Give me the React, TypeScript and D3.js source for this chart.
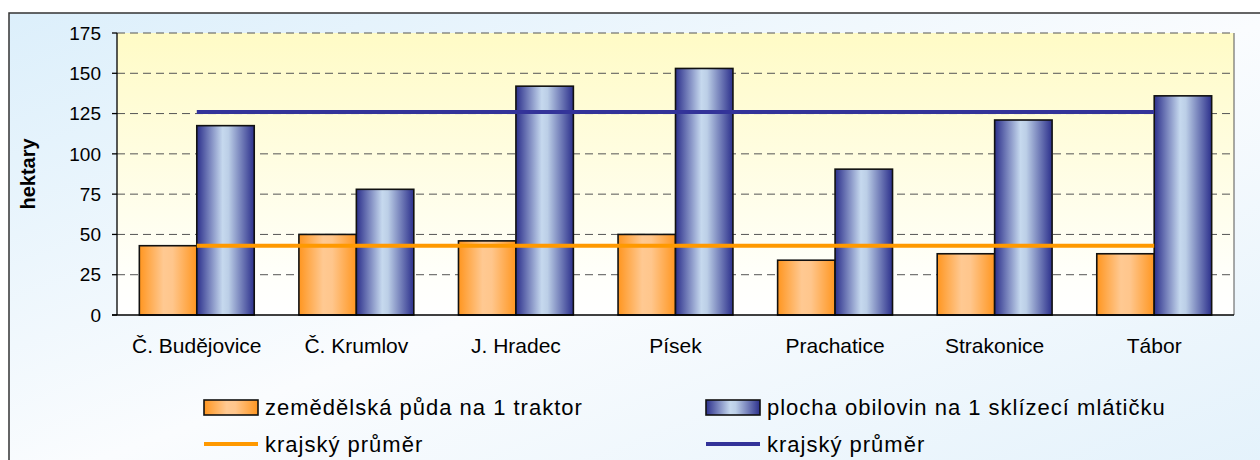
import React, { useEffect, useRef } from 'react';
import * as d3 from 'd3';

const categories = ['Č. Budějovice', 'Č. Krumlov', 'J. Hradec', 'Písek', 'Prachatice', 'Strakonice', 'Tábor'];
const landPerTractor = [43, 50, 46, 50, 34, 38, 38];
const grainPerHarvester = [117.5, 78, 142, 153, 90.5, 121, 136];
const avgLand = 43;
const avgGrain = 126;
const yTicks = [0, 25, 50, 75, 100, 125, 150, 175];
const seriesNames = ['zemědělská půda na 1 traktor', 'plocha obilovin na 1 sklízecí mlátičku'];
const avgName = 'krajský průměr';

const App: React.FC = () => {
  const ref = useRef(null);

  useEffect(() => {
    if (!ref.current) return;
    const W = 1260;
    const H = 460;
    const margin = { top: 33, left: 117, right: 26, bottom: 145 };

    d3.select(ref.current).selectAll('*').remove();

    const svg = d3.select(ref.current)
      .append('svg')
      .attr('width', W)
      .attr('height', H)
      .style('display', 'block')
      .style('font-family', 'Arial, "Liberation Sans", sans-serif');

    const defs = svg.append('defs');

    const bg = defs.append('linearGradient').attr('id', 'bgGrad')
      .attr('x1', 0).attr('y1', 0).attr('x2', 1).attr('y2', 1);
    bg.append('stop').attr('offset', 0).attr('stop-color', '#DCEFFB');
    bg.append('stop').attr('offset', 0.5).attr('stop-color', '#FAFCFE');
    bg.append('stop').attr('offset', 1).attr('stop-color', '#E2F1FB');

    const plotBg = defs.append('linearGradient').attr('id', 'plotGrad')
      .attr('x1', 0).attr('y1', 0).attr('x2', 0).attr('y2', 1);
    plotBg.append('stop').attr('offset', 0).attr('stop-color', '#FFFBC6');
    plotBg.append('stop').attr('offset', 0.85).attr('stop-color', '#FFFFFA');
    plotBg.append('stop').attr('offset', 1).attr('stop-color', '#FFFFFF');

    const orange = defs.append('linearGradient').attr('id', 'orangeGrad')
      .attr('x1', 0).attr('y1', 0).attr('x2', 1).attr('y2', 0);
    orange.append('stop').attr('offset', 0).attr('stop-color', '#FF9620');
    orange.append('stop').attr('offset', 0.42).attr('stop-color', '#FFC992');
    orange.append('stop').attr('offset', 0.58).attr('stop-color', '#FFC68C');
    orange.append('stop').attr('offset', 1).attr('stop-color', '#FF9620');

    const blue = defs.append('linearGradient').attr('id', 'blueGrad')
      .attr('x1', 0).attr('y1', 0).attr('x2', 1).attr('y2', 0);
    blue.append('stop').attr('offset', 0).attr('stop-color', '#2C308C');
    blue.append('stop').attr('offset', 0.45).attr('stop-color', '#C6D9EE');
    blue.append('stop').attr('offset', 0.55).attr('stop-color', '#BCCFE7');
    blue.append('stop').attr('offset', 1).attr('stop-color', '#2C308C');

    // outer frame, runs off the right and bottom edge like the original
    svg.append('rect')
      .attr('x', 9).attr('y', 13)
      .attr('width', W + 20).attr('height', H + 20)
      .attr('fill', 'url(#bgGrad)')
      .attr('stroke', '#333')
      .attr('stroke-width', 1.5);

    const x0 = d3.scaleBand<string>()
      .domain(categories)
      .range([margin.left, W - margin.right])
      .paddingInner(0.28)
      .paddingOuter(0.14);
    const x1 = d3.scaleBand<number>()
      .domain([0, 1])
      .range([0, x0.bandwidth()]);
    const y = d3.scaleLinear().domain([0, 175]).range([H - margin.bottom, margin.top]);

    const left = margin.left;
    const right = W - margin.right;

    svg.append('rect')
      .attr('x', left).attr('y', y(175))
      .attr('width', right - left).attr('height', y(0) - y(175))
      .attr('fill', 'url(#plotGrad)');

    // gridlines
    svg.selectAll('.grid')
      .data(yTicks.filter(t => t > 0))
      .enter().append('line')
      .attr('x1', left).attr('x2', right)
      .attr('y1', d => y(d)).attr('y2', d => y(d))
      .attr('stroke', '#555')
      .attr('stroke-width', 1)
      .attr('stroke-dasharray', '8,5');

    svg.append('line')
      .attr('x1', right).attr('x2', right)
      .attr('y1', y(175)).attr('y2', y(0))
      .attr('stroke', '#555').attr('stroke-width', 1);

    // bars
    const series = [landPerTractor, grainPerHarvester];
    const fills = ['url(#orangeGrad)', 'url(#blueGrad)'];
    series.forEach((vals, si) => {
      svg.selectAll('.bar' + si)
        .data(vals)
        .enter().append('rect')
        .attr('x', (d, i) => (x0(categories[i]) as number) + (x1(si) as number))
        .attr('y', d => y(d))
        .attr('width', x1.bandwidth())
        .attr('height', d => y(0) - y(d))
        .attr('fill', fills[si])
        .attr('stroke', '#111')
        .attr('stroke-width', 1.6);
    });

    // regional averages, first to last category centre
    const cx = (c: string) => (x0(c) as number) + x0.bandwidth() / 2;
    const avgLine = d3.line<number>()
      .x((d, i) => cx(categories[i === 0 ? 0 : categories.length - 1]))
      .y(d => y(d));
    svg.append('path')
      .attr('d', avgLine([avgLand, avgLand]))
      .attr('stroke', '#FF9900').attr('stroke-width', 4).attr('fill', 'none');
    svg.append('path')
      .attr('d', avgLine([avgGrain, avgGrain]))
      .attr('stroke', '#333399').attr('stroke-width', 4).attr('fill', 'none');

    // axes
    svg.append('line')
      .attr('x1', left).attr('x2', left)
      .attr('y1', y(175)).attr('y2', y(0))
      .attr('stroke', '#000').attr('stroke-width', 1.3);
    svg.append('line')
      .attr('x1', left - 5).attr('x2', right)
      .attr('y1', y(0)).attr('y2', y(0))
      .attr('stroke', '#000').attr('stroke-width', 1.3);

    svg.selectAll('.ytick')
      .data(yTicks)
      .enter().append('line')
      .attr('x1', left - 5).attr('x2', left)
      .attr('y1', d => y(d)).attr('y2', d => y(d))
      .attr('stroke', '#000').attr('stroke-width', 1.3);

    svg.selectAll('.ylab')
      .data(yTicks)
      .enter().append('text')
      .attr('x', 101)
      .attr('y', d => y(d))
      .attr('dy', '0.35em')
      .attr('text-anchor', 'end')
      .style('font-size', '19px')
      .style('fill', '#000')
      .text(d => d);

    svg.selectAll('.xlab')
      .data(categories)
      .enter().append('text')
      .attr('x', d => cx(d))
      .attr('y', 346)
      .attr('dy', '0.35em')
      .attr('text-anchor', 'middle')
      .style('font-size', '21px')
      .style('fill', '#000')
      .text(d => d);

    svg.append('text')
      .attr('transform', 'translate(35,174) rotate(-90)')
      .attr('text-anchor', 'middle')
      .style('font-size', '20px')
      .style('font-weight', 'bold')
      .style('fill', '#000')
      .text('hektary');

    // legend
    const legendX = [204, 706];
    legendX.forEach((lx, i) => {
      svg.append('rect')
        .attr('x', lx).attr('y', 400)
        .attr('width', 54).attr('height', 15)
        .attr('fill', fills[i])
        .attr('stroke', '#111').attr('stroke-width', 1.6);
      svg.append('text')
        .attr('x', lx + 61).attr('y', 407)
        .attr('dy', '0.35em')
        .style('font-size', '22px')
        .style('letter-spacing', '1px')
        .style('fill', '#000')
        .text(seriesNames[i]);
    });
    const lineColors = ['#FF9900', '#333399'];
    legendX.forEach((lx, i) => {
      svg.append('line')
        .attr('x1', lx).attr('x2', lx + 54)
        .attr('y1', 444).attr('y2', 444)
        .attr('stroke', lineColors[i]).attr('stroke-width', 4);
      svg.append('text')
        .attr('x', lx + 61).attr('y', 444)
        .attr('dy', '0.35em')
        .style('font-size', '22px')
        .style('letter-spacing', '1px')
        .style('fill', '#000')
        .text(avgName);
    });
  }, []);

  return (
    <div style={{ position: 'absolute', left: 0, top: 0, width: 1260, height: 460, overflow: 'hidden' }} ref={ref}></div>
  );
};

export default App;
